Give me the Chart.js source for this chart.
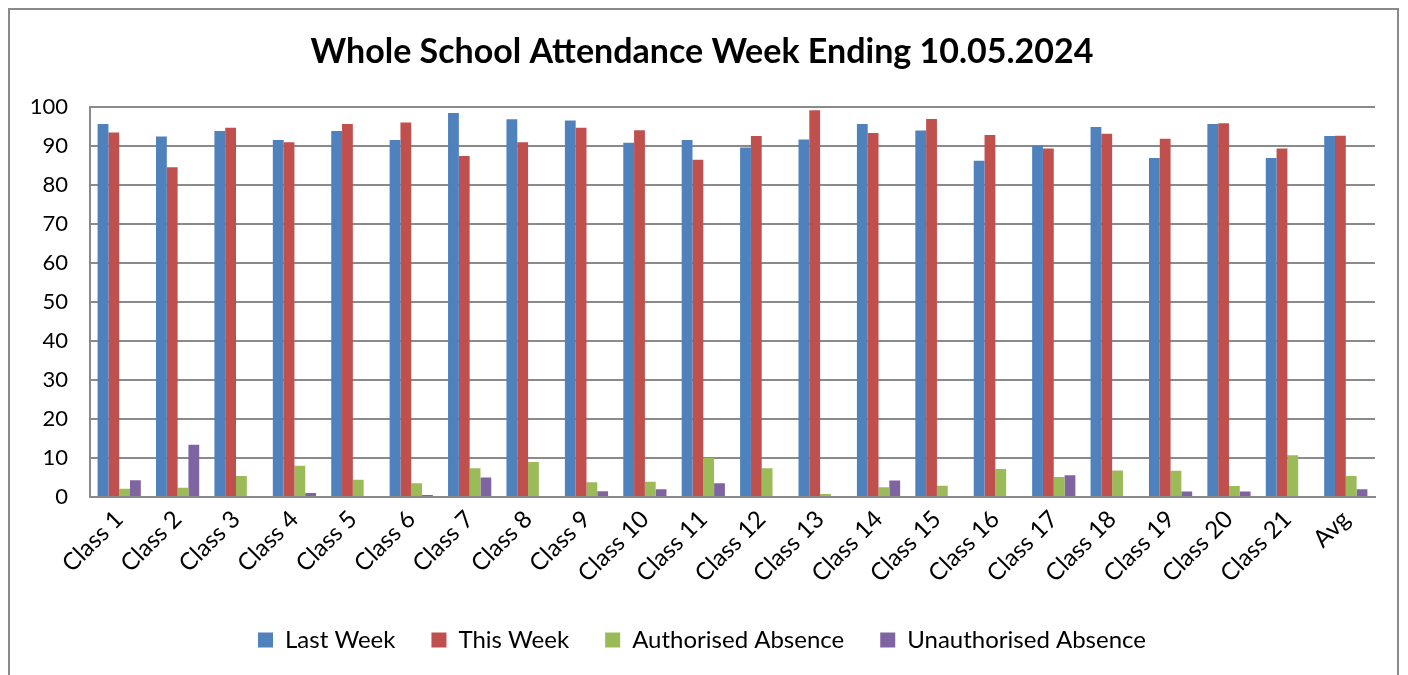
<!DOCTYPE html>
<html>
<head>
<meta charset="utf-8">
<script src="https://cdn.jsdelivr.net/npm/chart.js@4/dist/chart.umd.min.js"></script>
<style>
  html, body { margin: 0; padding: 0; background: #fff; }
  #wrap { width: 1408px; height: 675px; position: relative; }
</style>
</head>
<body>
<div id="wrap"><canvas id="chart" width="1408" height="675"></canvas></div>
<script>
// Attendance chart - week ending 10.05.2024
const categories = ['Class 1','Class 2','Class 3','Class 4','Class 5','Class 6','Class 7','Class 8','Class 9','Class 10','Class 11',
  'Class 12','Class 13','Class 14','Class 15','Class 16','Class 17','Class 18','Class 19','Class 20','Class 21','Avg'];
const lastWeek = [95.6, 92.4, 93.8, 91.5, 93.8, 91.5, 98.4, 96.8, 96.5, 90.8, 91.5,
  89.6, 91.6, 95.6, 93.9, 86.2, 90.1, 94.8, 86.9, 95.6, 86.9, 92.5];
const thisWeek = [93.4, 84.5, 94.6, 90.9, 95.6, 96.0, 87.4, 90.9, 94.6, 94.0, 86.4,
  92.5, 99.1, 93.3, 96.9, 92.8, 89.3, 93.1, 91.8, 95.8, 89.3, 92.6];
const authorised = [2.1, 2.4, 5.4, 8.0, 4.4, 3.5, 7.4, 9.0, 3.8, 3.9, 10.0,
  7.4, 0.8, 2.5, 2.9, 7.2, 5.1, 6.8, 6.7, 2.8, 10.7, 5.4];
const unauthorised = [4.3, 13.4, 0, 1.0, 0, 0.5, 5.0, 0, 1.5, 2.0, 3.5,
  0, 0, 4.2, 0, 0, 5.6, 0, 1.4, 1.4, 0, 2.0];
const yTicks = [0, 10, 20, 30, 40, 50, 60, 70, 80, 90, 100];

const FONT = 'Lato, "Open Sans", sans-serif';

const frame = {
  id: 'frame',
  beforeDraw(chart) {
    const { ctx } = chart;
    ctx.save();
    ctx.fillStyle = '#fff';
    ctx.fillRect(0, 0, chart.width, chart.height);
    ctx.strokeStyle = '#8a8a8a';
    ctx.lineWidth = 2;
    ctx.strokeRect(9, 9, 1389, 680);
    ctx.restore();
  }
};

const ds = (label, data, color) => ({
  label, data, backgroundColor: color, borderWidth: 0,
  categoryPercentage: 0.74, barPercentage: 1
});

new Chart(document.getElementById('chart'), {
  type: 'bar',
  data: {
    labels: categories,
    datasets: [
      ds('Last Week', lastWeek, '#4F81BD'),
      ds('This Week', thisWeek, '#C0504D'),
      ds('Authorised Absence', authorised, '#9BBB59'),
      ds('Unauthorised Absence', unauthorised, '#8064A2'),
    ],
  },
  options: {
    responsive: false,
    animation: false,
    layout: { padding: { left: 29, right: 33, top: 0, bottom: 13 } },
    plugins: {
      title: {
        display: true,
        text: 'Whole School Attendance Week Ending 10.05.2024',
        color: '#000',
        font: { family: FONT, size: 34, weight: 'bold', lineHeight: 1.2 },
        padding: { top: 32, bottom: 34 },
      },
      legend: {
        position: 'bottom',
        labels: {
          color: '#000', boxWidth: 15, boxHeight: 15, padding: 36,
          font: { family: FONT, size: 24 },
        },
      },
      tooltip: { enabled: false },
    },
    scales: {
      x: {
        grid: { display: false, drawTicks: false },
        border: { color: '#8a8a8a', width: 2 },
        ticks: {
          color: '#000', maxRotation: 45, minRotation: 45, autoSkip: false,
          font: { family: FONT, size: 24 }, padding: 8,
        },
        afterFit: (s) => { s.height = 95; },
      },
      y: {
        min: 0, max: 100,
        afterBuildTicks: (s) => { s.ticks = yTicks.map(v => ({ value: v })); },
        grid: { color: '#8a8a8a', lineWidth: 2, drawTicks: false },
        border: { color: '#8a8a8a', width: 2 },
        ticks: { color: '#000', font: { family: FONT, size: 22 }, padding: 22 },
        afterFit: (s) => { s.width = 61; },
      },
    },
  },
  plugins: [frame],
});
</script>
</body>
</html>
